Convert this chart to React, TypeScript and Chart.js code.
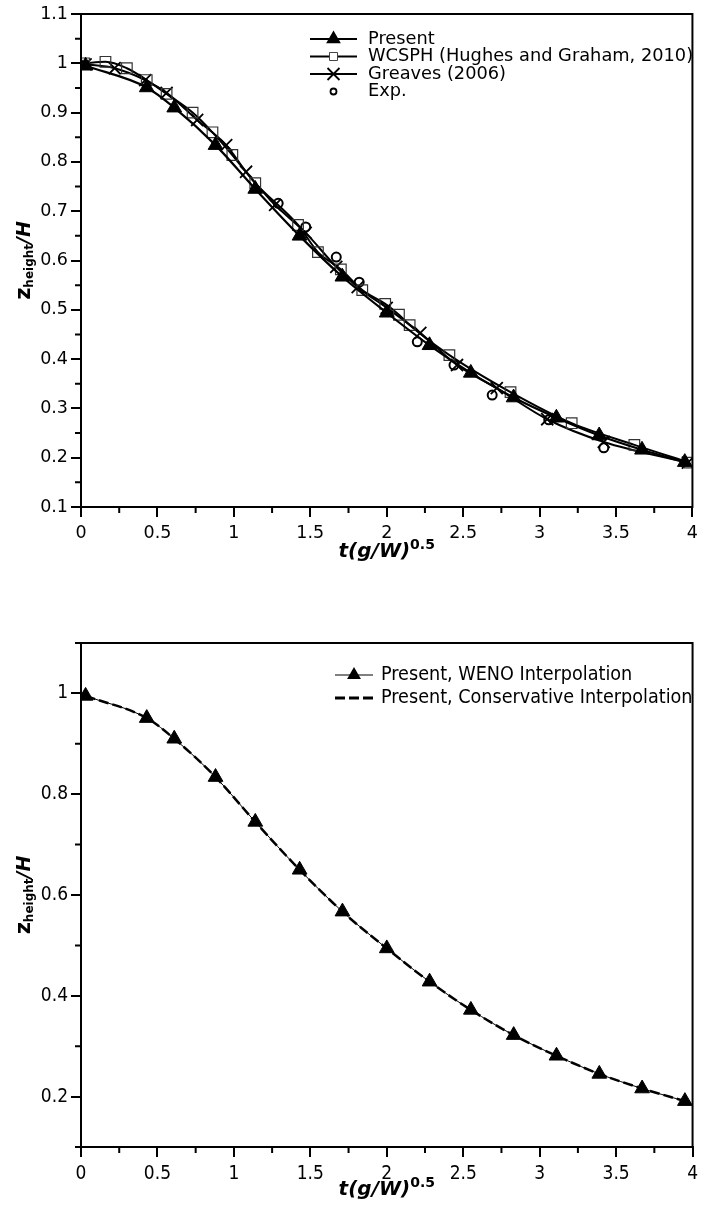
import React, { useEffect, useRef } from 'react';
import { Chart, registerables } from 'chart.js';
Chart.register(...registerables);

// ---------------- data ----------------
const presentT = [0.03, 0.43, 0.61, 0.88, 1.14, 1.43, 1.71, 2.0, 2.28, 2.55, 2.83, 3.11, 3.39, 3.67, 3.95];
const presentZ = [0.995, 0.951, 0.91, 0.834, 0.745, 0.65, 0.567, 0.494, 0.428, 0.372, 0.322, 0.281, 0.245, 0.216, 0.191];

const wcsphT = [0.02, 0.16, 0.3, 0.43, 0.56, 0.73, 0.86, 0.99, 1.14, 1.42, 1.55, 1.7, 1.84, 1.99, 2.08, 2.15, 2.41, 2.81, 3.21, 3.62, 3.98];
const wcsphZ = [1.0, 1.003, 0.99, 0.966, 0.938, 0.9, 0.86, 0.814, 0.757, 0.672, 0.617, 0.582, 0.54, 0.512, 0.49, 0.469, 0.408, 0.333, 0.27, 0.226, 0.19];

const greavesT = [0.03, 0.22, 0.42, 0.56, 0.76, 0.95, 1.08, 1.27, 1.47, 1.67, 1.81, 2.0, 2.22, 2.46, 2.72, 3.05, 3.42, 3.97];
const greavesZ = [0.998, 0.99, 0.966, 0.94, 0.885, 0.834, 0.78, 0.713, 0.656, 0.587, 0.546, 0.504, 0.453, 0.388, 0.341, 0.278, 0.232, 0.19];

const expT = [1.29, 1.47, 1.67, 1.82, 2.2, 2.44, 2.69, 3.06, 3.42];
const expZ = [0.716, 0.668, 0.607, 0.556, 0.435, 0.388, 0.327, 0.277, 0.22];

const xTicks = [0, 0.5, 1, 1.5, 2, 2.5, 3, 3.5, 4];
const xMinorTicks = [0.25, 0.75, 1.25, 1.75, 2.25, 2.75, 3.25, 3.75];
const topYTicks = [0.1, 0.2, 0.3, 0.4, 0.5, 0.6, 0.7, 0.8, 0.9, 1.0, 1.1];
const topYMinorTicks = [0.15, 0.25, 0.35, 0.45, 0.55, 0.65, 0.75, 0.85, 0.95, 1.05];
const bottomYTicks = [0.2, 0.4, 0.6, 0.8, 1.0];
const bottomYMinorTicks = [0.1, 0.3, 0.5, 0.7, 0.9, 1.1];

const topLegendLabels = ['Present', 'WCSPH (Hughes and Graham, 2010)', 'Greaves (2006)', 'Exp.'];
const bottomLegendLabels = ['Present, WENO Interpolation', 'Present, Conservative Interpolation'];

// ---------------- helpers ----------------
const pts = (xs: number[], ys: number[]) => xs.map((x, i) => ({ x, y: ys[i] }));
const fmt = (v: number) => String(Math.round(v * 100) / 100);

type Part = { text: string; font: string; dy: number };

function drawRich(ctx: CanvasRenderingContext2D, parts: Part[], cx: number, cy: number) {
  let total = 0;
  const widths = parts.map((p) => {
    ctx.font = p.font;
    const w = ctx.measureText(p.text).width;
    total += w;
    return w;
  });
  let x = cx - total / 2;
  ctx.textBaseline = 'middle';
  ctx.textAlign = 'left';
  ctx.fillStyle = '#000';
  parts.forEach((p, i) => {
    ctx.font = p.font;
    ctx.fillText(p.text, x, cy + p.dy);
    x += widths[i];
  });
}

function drawMarker(ctx: CanvasRenderingContext2D, style: string, x: number, y: number, r: number) {
  ctx.save();
  ctx.strokeStyle = '#000';
  ctx.fillStyle = '#000';
  ctx.beginPath();
  if (style === 'triangle') {
    const s = Math.sin(Math.PI / 3) * r;
    ctx.moveTo(x, y - r);
    ctx.lineTo(x + s, y + r / 2);
    ctx.lineTo(x - s, y + r / 2);
    ctx.closePath();
    ctx.fill();
  } else if (style === 'rect') {
    ctx.lineWidth = 1;
    ctx.strokeStyle = '#444';
    ctx.fillStyle = '#fff';
    ctx.rect(x - r, y - r, 2 * r, 2 * r);
    ctx.fill();
    ctx.stroke();
  } else if (style === 'cross') {
    ctx.lineWidth = 1.8;
    ctx.moveTo(x - r, y - r);
    ctx.lineTo(x + r, y + r);
    ctx.moveTo(x + r, y - r);
    ctx.lineTo(x - r, y + r);
    ctx.stroke();
  } else if (style === 'circle') {
    ctx.lineWidth = 1.8;
    ctx.arc(x, y, r, 0, Math.PI * 2);
    ctx.stroke();
  }
  ctx.restore();
}

type LegendItem = { label: string; marker: string | null; markerR: number; lineWidth: number; dash: number[] | null; line: boolean };

function makeDecor(opts: {
  yMinor: number[];
  xTitleY: number;
  yTitleX: number;
  legend: LegendItem[];
  legendX1: number;
  legendX2: number;
  legendTextX: number;
  legendY0: number;
  legendDy: number;
  legendFont: string;
}) {
  return {
    id: 'decor',
    afterDraw(chart: any) {
      const ctx: CanvasRenderingContext2D = chart.ctx;
      const a = chart.chartArea;
      const xs = chart.scales.x;
      const ys = chart.scales.y;
      ctx.save();
      // frame
      ctx.strokeStyle = '#000';
      ctx.lineWidth = 2;
      ctx.strokeRect(a.left, a.top, a.right - a.left, a.bottom - a.top);
      // minor ticks
      ctx.beginPath();
      xMinorTicks.forEach((v) => {
        const px = xs.getPixelForValue(v);
        ctx.moveTo(px, a.bottom);
        ctx.lineTo(px, a.bottom + 6);
      });
      opts.yMinor.forEach((v) => {
        const py = ys.getPixelForValue(v);
        ctx.moveTo(a.left, py);
        ctx.lineTo(a.left - 6, py);
      });
      ctx.stroke();
      // x title
      const cx = (a.left + a.right) / 2;
      drawRich(
        ctx,
        [
          { text: 't(g/W)', font: 'italic bold 20px "DejaVu Sans"', dy: 0 },
          { text: '0.5', font: 'bold 14px "DejaVu Sans"', dy: -7 },
        ],
        cx,
        opts.xTitleY
      );
      // y title
      const cy = (a.top + a.bottom) / 2;
      ctx.save();
      ctx.translate(opts.yTitleX, cy);
      ctx.rotate(-Math.PI / 2);
      drawRich(
        ctx,
        [
          { text: 'z', font: 'bold 21px "DejaVu Sans"', dy: 0 },
          { text: 'height', font: 'bold 12px "DejaVu Sans"', dy: 5 },
          { text: '/H', font: 'italic bold 19px "DejaVu Sans"', dy: 0 },
        ],
        0,
        0
      );
      ctx.restore();
      // legend
      opts.legend.forEach((it, i) => {
        const y = opts.legendY0 + i * opts.legendDy;
        if (it.line) {
          ctx.save();
          ctx.beginPath();
          ctx.lineWidth = it.lineWidth;
          ctx.strokeStyle = '#000';
          if (it.dash) ctx.setLineDash(it.dash);
          ctx.moveTo(opts.legendX1, y);
          ctx.lineTo(opts.legendX2, y);
          ctx.stroke();
          ctx.restore();
        }
        if (it.marker) drawMarker(ctx, it.marker, (opts.legendX1 + opts.legendX2) / 2, y, it.markerR);
        ctx.font = opts.legendFont;
        ctx.fillStyle = '#000';
        ctx.textAlign = 'left';
        ctx.textBaseline = 'middle';
        ctx.fillText(it.label, opts.legendTextX, y);
      });
      ctx.restore();
    },
  };
}

function axisOpts(ticks: number[], min: number, max: number, fontFamily: string, fontSize: number, isX: boolean, fixedSize: number) {
  return {
    type: 'linear',
    min,
    max,
    afterBuildTicks: (scale: any) => {
      scale.ticks = ticks.map((v) => ({ value: v }));
    },
    afterFit: (scale: any) => {
      if (isX) scale.height = fixedSize;
      else scale.width = fixedSize;
    },
    ticks: {
      autoSkip: false,
      maxRotation: 0,
      color: '#000',
      padding: isX ? 6 : 3,
      font: { family: fontFamily, size: fontSize },
      callback: (v: number) => fmt(v),
    },
    grid: {
      drawOnChartArea: false,
      drawTicks: true,
      tickLength: 10,
      color: '#000',
      lineWidth: 2,
    },
    border: { display: true, color: '#000', width: 2 },
  };
}

function TopChart() {
  const ref = useRef<HTMLCanvasElement>(null);
  useEffect(() => {
    const W = 704;
    const H = 600;
    const chart = new Chart(ref.current as HTMLCanvasElement, {
      type: 'line',
      data: {
        datasets: [
          {
            label: topLegendLabels[0],
            data: pts(presentT, presentZ),
            borderColor: '#000',
            borderWidth: 2.2,
            pointStyle: 'triangle',
            pointRadius: 8.5,
            pointBackgroundColor: '#000',
            pointBorderColor: '#000',
            pointBorderWidth: 1,
            cubicInterpolationMode: 'monotone',
          },
          {
            label: topLegendLabels[1],
            data: pts(wcsphT, wcsphZ),
            borderColor: '#000',
            borderWidth: 2,
            pointStyle: 'rect',
            pointRadius: 7.5,
            pointBackgroundColor: 'rgba(0,0,0,0)',
            pointBorderColor: '#333',
            pointBorderWidth: 1.2,
            cubicInterpolationMode: 'monotone',
          },
          {
            label: topLegendLabels[2],
            data: pts(greavesT, greavesZ),
            borderColor: '#000',
            borderWidth: 2,
            pointStyle: 'crossRot',
            pointRadius: 8.5,
            pointBorderColor: '#000',
            pointBorderWidth: 1.8,
            cubicInterpolationMode: 'monotone',
          },
          {
            label: topLegendLabels[3],
            data: pts(expT, expZ),
            showLine: false,
            borderColor: '#000',
            pointStyle: 'circle',
            pointRadius: 4.5,
            pointBackgroundColor: 'rgba(0,0,0,0)',
            pointBorderColor: '#000',
            pointBorderWidth: 2,
          },
        ],
      },
      options: {
        responsive: false,
        animation: false,
        events: [],
        layout: { padding: { top: 14, right: W - 697, left: 0, bottom: 0 } },
        plugins: { legend: { display: false }, tooltip: { enabled: false } },
        scales: {
          x: axisOpts(xTicks, 0, 4, '"DejaVu Sans"', 17.5, true, H - 507),
          y: axisOpts(topYTicks, 0.1, 1.1, '"DejaVu Sans"', 17.5, false, 81),
        },
      } as any,
      plugins: [
        makeDecor({
          yMinor: topYMinorTicks,
          xTitleY: 552,
          yTitleX: 25,
          legend: [
            { label: topLegendLabels[0], marker: 'triangle', markerR: 8.5, lineWidth: 2.2, dash: null, line: true },
            { label: topLegendLabels[1], marker: 'rect', markerR: 4, lineWidth: 2, dash: null, line: true },
            { label: topLegendLabels[2], marker: 'cross', markerR: 6, lineWidth: 2, dash: null, line: true },
            { label: topLegendLabels[3], marker: 'circle', markerR: 3, lineWidth: 0, dash: null, line: false },
          ],
          legendX1: 310,
          legendX2: 357,
          legendTextX: 368,
          legendY0: 39,
          legendDy: 17.5,
          legendFont: '17.8px "DejaVu Sans"',
        }) as any,
      ],
    });
    return () => chart.destroy();
  }, []);
  return <canvas ref={ref} width={704} height={600} style={{ position: 'absolute', left: 0, top: 0, display: 'block' }} />;
}

function BottomChart() {
  const ref = useRef<HTMLCanvasElement>(null);
  useEffect(() => {
    const W = 704;
    const H = 610;
    const fam = '"DejaVu Sans Condensed", "DejaVu Sans"';
    const chart = new Chart(ref.current as HTMLCanvasElement, {
      type: 'line',
      data: {
        datasets: [
          {
            label: bottomLegendLabels[0],
            data: pts(presentT, presentZ),
            borderColor: '#000',
            borderWidth: 1,
            pointStyle: 'triangle',
            pointRadius: 8.5,
            pointBackgroundColor: '#000',
            pointBorderColor: '#000',
            pointBorderWidth: 1,
            cubicInterpolationMode: 'monotone',
          },
          {
            label: bottomLegendLabels[1],
            data: pts(presentT, presentZ),
            borderColor: '#000',
            borderWidth: 2.5,
            borderDash: [10, 4],
            pointRadius: 0,
            cubicInterpolationMode: 'monotone',
          },
        ],
      },
      options: {
        responsive: false,
        animation: false,
        events: [],
        layout: { padding: { top: 33, right: W - 697, left: 0, bottom: 0 } },
        plugins: { legend: { display: false }, tooltip: { enabled: false } },
        scales: {
          x: axisOpts(xTicks, 0, 4, fam, 19, true, H - 537),
          y: axisOpts(bottomYTicks, 0.1, 1.1, fam, 19, false, 81),
        },
      } as any,
      plugins: [
        makeDecor({
          yMinor: bottomYMinorTicks,
          xTitleY: 580,
          yTitleX: 25,
          legend: [
            { label: bottomLegendLabels[0], marker: 'triangle', markerR: 8, lineWidth: 1, dash: null, line: true },
            { label: bottomLegendLabels[1], marker: null, markerR: 0, lineWidth: 3, dash: [10, 4], line: true },
          ],
          legendX1: 335,
          legendX2: 373,
          legendTextX: 381,
          legendY0: 65,
          legendDy: 23,
          legendFont: '19.6px "DejaVu Sans Condensed", "DejaVu Sans"',
        }) as any,
      ],
    });
    return () => chart.destroy();
  }, []);
  return <canvas ref={ref} width={704} height={610} style={{ position: 'absolute', left: 0, top: 610, display: 'block' }} />;
}

export default function App() {
  return (
    <div style={{ position: 'absolute', left: 0, top: 0, width: 704, height: 1220, background: '#fff' }}>
      <TopChart />
      <BottomChart />
    </div>
  );
}
